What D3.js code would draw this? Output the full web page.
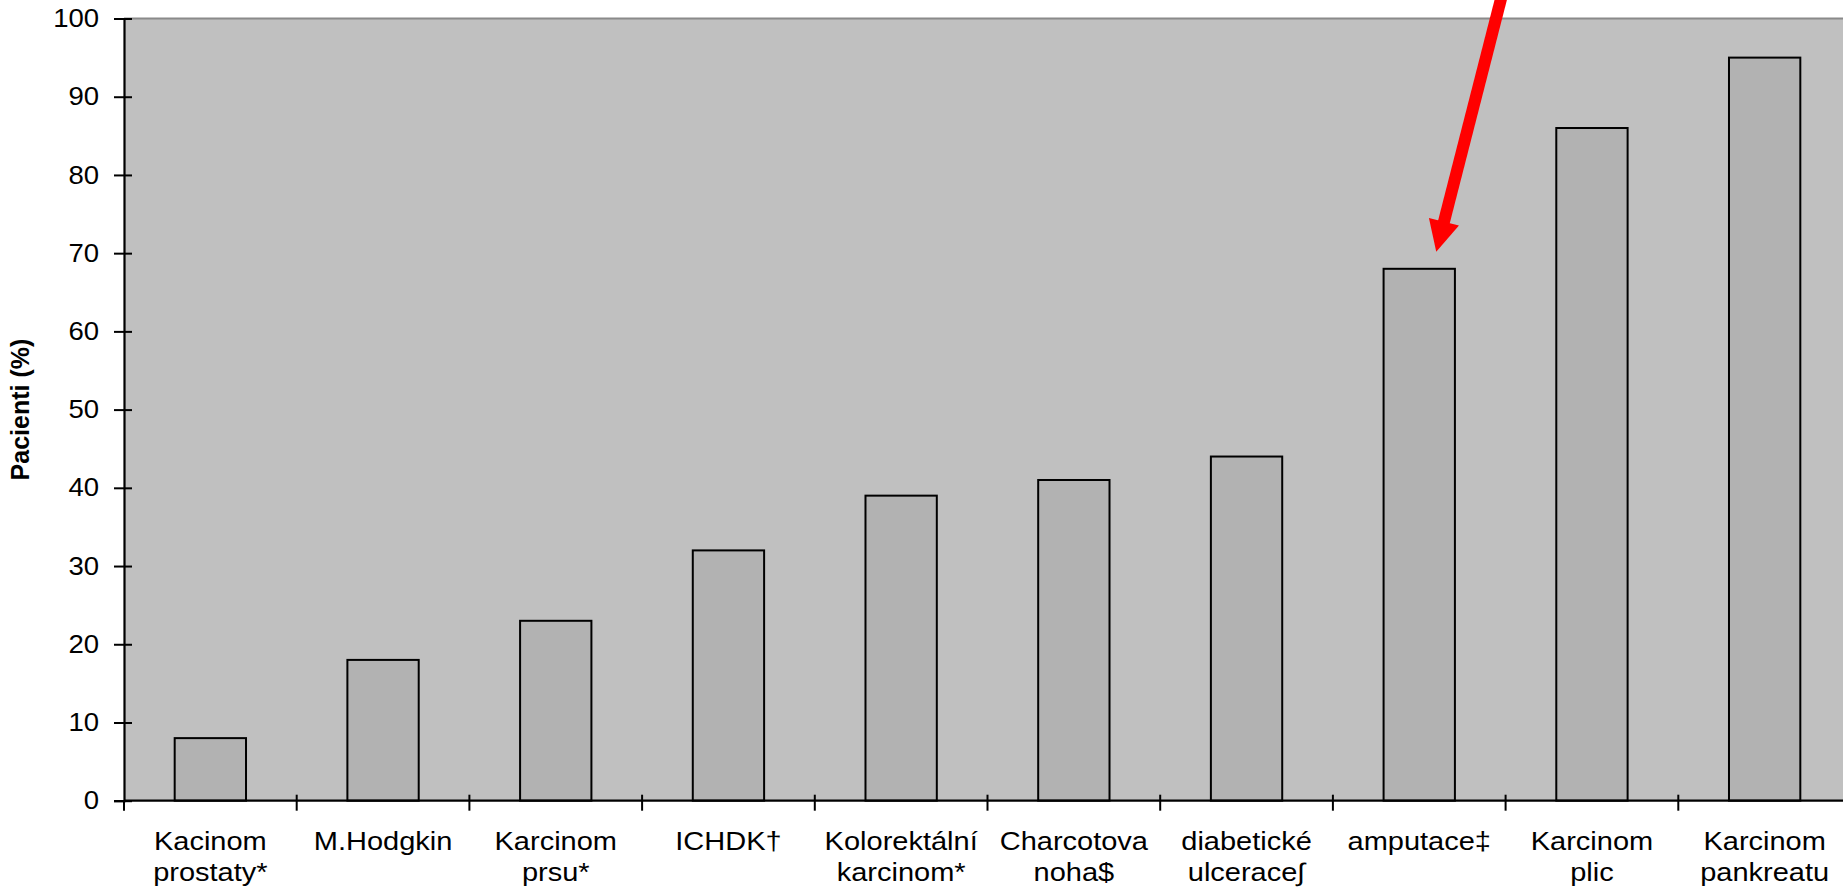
<!DOCTYPE html>
<html>
<head>
<meta charset="utf-8">
<script src="https://cdn.jsdelivr.net/npm/d3@7"></script>
<style>
  html, body { margin: 0; padding: 0; background: #ffffff; overflow: hidden; }
  svg { display: block; font-family: "Liberation Sans", Arial, sans-serif; }
</style>
</head>
<body>
<svg id="chart" width="1843" height="890"></svg>
<script>
const categories = [
  ["Kacinom", "prostaty*"],
  ["M.Hodgkin"],
  ["Karcinom", "prsu*"],
  ["ICHDK†"],
  ["Kolorektální", "karcinom*"],
  ["Charcotova", "noha$"],
  ["diabetické", "ulcerace∫"],
  ["amputace‡"],
  ["Karcinom", "plic"],
  ["Karcinom", "pankreatu"]
];
const values = [8, 18, 23, 32, 39, 41, 44, 68, 86, 95];
const yTicks = [0, 10, 20, 30, 40, 50, 60, 70, 80, 90, 100];
const yTitle = "Pacienti (%)";
const highlightIndex = 7;

(function () {
const svg = d3.select("#chart");
const pLeft = 124, pRight = 1851, pTop = 18.5, pBottom = 800.7;
const keys = categories.map((c, i) => i);

const x = d3.scaleBand().domain(keys).range([pLeft, pRight])
  .paddingInner(0.587).paddingOuter(0.2935);
const xCell = d3.scaleBand().domain(keys).range([pLeft, pRight]).padding(0);
const y = d3.scaleLinear().domain([0, 100]).range([pBottom, pTop]);

// plot area
svg.append("rect").attr("x", pLeft).attr("y", pTop)
  .attr("width", pRight - pLeft).attr("height", pBottom - pTop)
  .attr("fill", "#c0c0c0");
svg.append("line").attr("x1", pLeft).attr("x2", pRight)
  .attr("y1", pTop).attr("y2", pTop)
  .attr("stroke", "#8a8a8a").attr("stroke-width", 2);

// bars
svg.append("g").selectAll("rect").data(values).join("rect")
  .attr("x", (d, i) => x(i))
  .attr("y", d => y(d))
  .attr("width", x.bandwidth())
  .attr("height", d => y(0) - y(d))
  .attr("fill", "#b2b2b2")
  .attr("stroke", "#000")
  .attr("stroke-width", 2);

// y axis
const yAxis = svg.append("g").attr("transform", `translate(${pLeft},0)`)
  .call(d3.axisLeft(y).tickValues(yTicks).tickSize(10).tickPadding(13).tickFormat(d3.format("d")));
yAxis.select(".domain").attr("stroke", "#000").attr("stroke-width", 2.2);
yAxis.selectAll(".tick line").attr("x1", 8).attr("x2", -10)
  .attr("stroke", "#000").attr("stroke-width", 2);
yAxis.selectAll(".tick text").attr("font-size", 25.5).attr("fill", "#000")
  .attr("font-family", "Liberation Sans, Arial, sans-serif")
  .attr("transform", "scale(1.08,1)");

// x axis
svg.append("line").attr("x1", pLeft).attr("x2", pRight)
  .attr("y1", pBottom).attr("y2", pBottom)
  .attr("stroke", "#000").attr("stroke-width", 2.2);
const boundaries = keys.map(k => xCell(k)).concat([pRight]);
svg.append("g").selectAll("line").data(boundaries).join("line")
  .attr("x1", d => d).attr("x2", d => d)
  .attr("y1", (d, i) => i === 0 ? pBottom : pBottom - 6)
  .attr("y2", pBottom + 10)
  .attr("stroke", "#000").attr("stroke-width", 2);

const labels = svg.append("g").selectAll("text").data(categories).join("text")
  .attr("text-anchor", "middle")
  .attr("font-size", 25)
  .attr("fill", "#000")
  .attr("transform", (d, i) => `translate(${xCell(i) + xCell.bandwidth() / 2},0) scale(1.16,1)`);
labels.selectAll("tspan").data(d => d).join("tspan")
  .attr("x", 0)
  .attr("y", (d, j) => 850 + j * 31)
  .text(d => d);

// y title
svg.append("text")
  .attr("transform", `translate(29,${(pTop + pBottom) / 2}) rotate(-90)`)
  .attr("text-anchor", "middle")
  .attr("font-size", 25)
  .attr("font-weight", "bold")
  .attr("fill", "#000")
  .text(yTitle);

// red arrow pointing at the highlighted bar
const tipX = x(highlightIndex) + x.bandwidth() / 2 + 17;
const tipY = y(values[highlightIndex]) - 17;
const dir = [0.248, -0.969];
const headLen = 31, headHalf = 15.5, lineLen = 290;
const baseX = tipX + dir[0] * headLen, baseY = tipY + dir[1] * headLen;
const px = -dir[1], py = dir[0];
svg.append("line")
  .attr("x1", baseX - dir[0] * 4).attr("y1", baseY - dir[1] * 4)
  .attr("x2", tipX + dir[0] * lineLen).attr("y2", tipY + dir[1] * lineLen)
  .attr("stroke", "#ff0000").attr("stroke-width", 12);
svg.append("path")
  .attr("d", `M${tipX},${tipY} L${baseX + px * headHalf},${baseY + py * headHalf} L${baseX - px * headHalf},${baseY - py * headHalf} Z`)
  .attr("fill", "#ff0000");
})();
</script>
</body>
</html>
